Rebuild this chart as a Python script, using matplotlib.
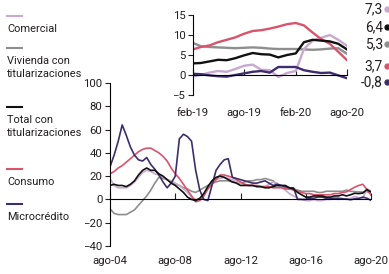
import matplotlib
matplotlib.use("Agg")
import matplotlib.pyplot as plt
import matplotlib.dates as mdates
from matplotlib.font_manager import FontProperties
from matplotlib.textpath import TextToPath
from matplotlib.lines import Line2D
from matplotlib.ticker import FuncFormatter
import pandas as pd

# quarterly series, ago-04 .. ago-20
dates = pd.date_range('2004-08-01', '2020-08-01', freq='3MS')
comercial = [18, 12, 10, 10, 10, 12, 15, 19, 23, 25, 24, 22, 21, 19, 17, 16, 14, 12, 9, 6,
             2, 0, 0, 3, 9, 14, 17, 18, 19, 18, 17, 15, 14, 13, 12, 12, 11, 11, 11, 13,
             15, 14, 11, 8, 5, 3, 1, 0, -1, -1, 0, -1, -1, 0, 0, 1, 0, 1, 0, 1,
             2.5, 1.5, 1, 9, 7.3]
vivienda = [-8, -12, -13, -13, -13, -11, -9, -5, -1, 3, 8, 14, 19, 18, 17, 15, 13, 12, 10, 9,
            7, 6, 8, 10, 12, 14, 15, 16, 16, 16, 15, 15, 14, 15, 16, 16, 17, 17, 18, 17,
            16, 12, 11, 10, 9, 9, 8, 7, 7, 7, 7, 6, 6, 7, 7, 7, 7, 7, 8, 7,
            6.7, 6.5, 6.3, 6.8, 5.3]
total = [12, 13, 12, 12, 11, 13, 16, 21, 25, 27, 25, 25, 22, 20, 17, 14, 12, 9, 6, 2,
         0, -1, 1, 5, 11, 16, 19, 20, 19, 17, 15, 14, 12, 12, 12, 12, 11, 11, 10, 10,
         11, 12, 12, 12, 10, 9, 6, 4, 2, 2, 3, 3, 3, 2, 2, 3, 3, 4, 3, 4,
         5.3, 5, 5.5, 8.5, 6.4]
consumo = [22, 24, 27, 29, 32, 35, 38, 41, 43, 44, 44, 42, 40, 37, 33, 27, 22, 18, 13, 8,
           3, -2, -1, 3, 9, 13, 17, 21, 21, 20, 19, 17, 15, 13, 12, 12, 12, 11, 11, 11,
           10, 10, 10, 9, 9, 8, 7, 6, 5, 5, 4, 4, 4, 4, 4, 5, 5, 6, 6.5, 8.5,
           10.5, 12, 13, 8.5, 3.7]
microcredito = [28, 38, 50, 64, 55, 45, 38, 34, 33, 36, 30, 26, 21, 15, 10, 14, 20, 52, 56, 54,
                50, 25, 8, 0, -1, 12, 25, 30, 34, 35, 19, 18, 17, 16, 15, 14, 14, 15, 16, 14,
                12, 13, 12, 11, 10, 10, 0, 0, 0, 1, 1, 2, 2, 1, 1, 1, 1, 0.5, 0.3, -0.3,
                0.5, 0.8, 2, 1, -0.8]

# monthly detail, feb-19 .. ago-20
dates_in = pd.date_range('2019-02-01', '2020-08-01', freq='MS')
comercial_in = [-0.3, 0.0, 0.6, 1.0, 0.8, 1.5, 2.3, 2.6, 1.3, 1.2, -0.5, 0.5, 1.0, 6.5, 8.6, 9.3, 10.0, 8.8, 7.3]
vivienda_in = [8.0, 7.2, 7.0, 6.9, 6.8, 6.7, 6.8, 6.9, 6.8, 6.6, 6.5, 6.5, 6.5, 6.4, 6.3, 6.4, 6.6, 6.7, 5.3]
total_in = [2.9, 3.0, 3.4, 3.8, 3.7, 4.2, 4.9, 5.5, 5.2, 5.1, 4.4, 5.0, 5.4, 8.2, 8.8, 8.6, 8.4, 7.8, 6.4]
consumo_in = [6.4, 7.0, 7.4, 8.2, 8.8, 9.4, 10.3, 11.0, 11.2, 11.6, 12.1, 12.7, 13.0, 12.4, 10.6, 9.0, 7.8, 5.8, 3.7]
microcredito_in = [0.3, 0.2, -0.1, -0.3, -0.4, 0.0, 0.4, 0.8, 1.0, 0.6, 2.0, 2.0, 2.0, 1.2, 0.8, 0.5, 0.6, -0.1, -0.8]

names = ['Comercial', 'Vivienda con\ntitularizaciones', 'Total con\ntitularizaciones',
         'Consumo', 'Microcrédito']
colors = ['#c9a9cf', '#8e8e8e', '#111111', '#d9536d', '#3e2d6b']

MESES = ['ene', 'feb', 'mar', 'abr', 'may', 'jun', 'jul', 'ago', 'sep', 'oct', 'nov', 'dic']
TXT = '#231f20'
FAMILY = 'Roboto'
plt.rcParams['font.family'] = [FAMILY, 'DejaVu Sans']


def size_for(s, px):
    # font size (pt) that gives text s a width of px pixels at 100 dpi
    prop = FontProperties(family=FAMILY, size=10)
    w = TextToPath().get_text_width_height_descent(s, prop, ismath=False)[0]
    return 10 * (px * 0.72) / w


fs_leg = min(10.5, size_for('titularizaciones', 75))
fs_tick = min(10, size_for('ago-04', 35))
fs_val = min(11, size_for('-0,8', 22))


def mes_fmt(x, pos):
    d = mdates.num2date(x)
    return f"{MESES[d.month - 1]}-{d.year % 100:02d}"


def style(ax, pad):
    for s in ['top', 'right']:
        ax.spines[s].set_visible(False)
    ax.spines['bottom'].set_position(('data', 0))
    ax.spines['bottom'].set_linewidth(0.8)
    ax.spines['left'].set_linewidth(0.8)
    ax.xaxis.set_major_formatter(FuncFormatter(mes_fmt))
    ax.tick_params(axis='x', direction='in', length=4, width=0.8, pad=pad,
                   labelsize=fs_tick, colors=TXT)
    ax.tick_params(axis='y', direction='out', length=3.5, width=0.8, pad=2,
                   labelsize=fs_tick, colors=TXT)


fig = plt.figure(figsize=(3.89, 2.74), dpi=100)

# main chart
ax = fig.add_axes([110 / 389, 1 - 246 / 274, 261 / 389, 163 / 274])
series = [comercial, vivienda, total, consumo, microcredito]
order = [1, 0, 3, 4, 2]
for i in order:
    ax.plot(dates, series[i], color=colors[i], lw=1.2)
ax.set_xlim(dates[0], dates[-1])
ax.set_ylim(-40, 100)
ax.set_yticks(range(-40, 101, 20))
ax.set_xticks([pd.Timestamp(f'{y}-08-01') for y in (2004, 2008, 2012, 2016, 2020)])
style(ax, 41)

# inset
axi = fig.add_axes([193 / 389, 1 - 95 / 274, 154 / 389, 80 / 274])
series_in = [comercial_in, vivienda_in, total_in, consumo_in, microcredito_in]
for i in order:
    axi.plot(dates_in, series_in[i], color=colors[i], lw=1.7)
axi.set_xlim(dates_in[0], dates_in[-1])
axi.set_ylim(-5, 15)
axi.set_yticks([-5, 0, 5, 10, 15])
axi.set_xticks([pd.Timestamp(s) for s in ('2019-02-01', '2019-08-01', '2020-02-01', '2020-08-01')])
style(axi, 24)

# last values next to the inset
label_y = [9, 44, 27, 66, 82]
for i in range(5):
    yf = 1 - label_y[i] / 274
    fig.text(383 / 389, yf, f"{series_in[i][-1]:.1f}".replace('.', ','), ha='right',
             va='center', fontsize=fs_val, color=TXT)
    fig.add_artist(Line2D([387 / 389], [yf], marker='o', ms=3.5, color=colors[i], lw=0))

# legend on the left
sample_y = [16, 48, 107, 169, 204]
for i in range(5):
    yf = 1 - sample_y[i] / 274
    fig.add_artist(Line2D([7 / 389, 22 / 389], [yf, yf], color=colors[i], lw=1.5))
    fig.text(7 / 389, 1 - (sample_y[i] + 8) / 274, names[i], ha='left', va='top',
             fontsize=fs_leg, color=TXT, linespacing=1.35)

fig.savefig('out.png', dpi=100)
